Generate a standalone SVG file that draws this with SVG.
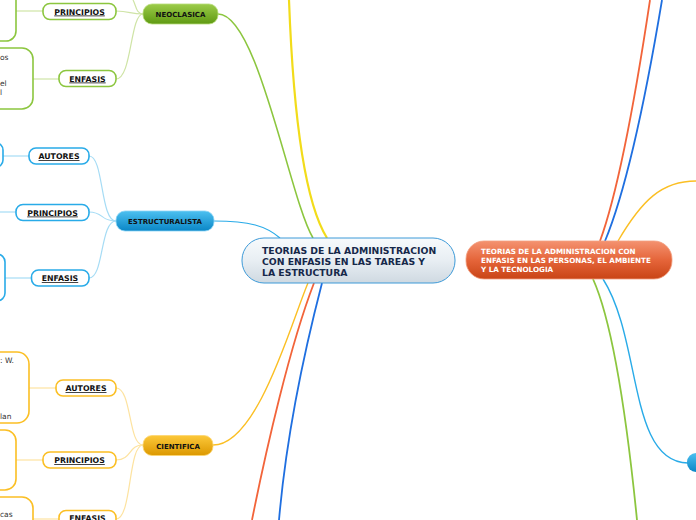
<svg xmlns="http://www.w3.org/2000/svg" width="696" height="520" viewBox="0 0 696 520">
<defs>
<linearGradient id="gCenter" x1="0" y1="0" x2="0" y2="1"><stop offset="0" stop-color="#f7fafc"/><stop offset="0.5" stop-color="#e8eef3"/><stop offset="1" stop-color="#cfd9e1"/></linearGradient>
<linearGradient id="gRight" x1="0" y1="0" x2="0" y2="1"><stop offset="0" stop-color="#f49270"/><stop offset="0.5" stop-color="#e5653a"/><stop offset="1" stop-color="#c94416"/></linearGradient>
<linearGradient id="gGreen" x1="0" y1="0" x2="0" y2="1"><stop offset="0" stop-color="#9ccc4a"/><stop offset="1" stop-color="#5f9a12"/></linearGradient>
<linearGradient id="gBlue" x1="0" y1="0" x2="0" y2="1"><stop offset="0" stop-color="#4cc0f0"/><stop offset="1" stop-color="#0a86c6"/></linearGradient>
<linearGradient id="gOrange" x1="0" y1="0" x2="0" y2="1"><stop offset="0" stop-color="#fcc83a"/><stop offset="1" stop-color="#dc9800"/></linearGradient>
</defs>
<style>
.lbl{font-family:"DejaVu Sans",Verdana,sans-serif;font-weight:bold;font-size:7.8px;fill:#111;text-anchor:middle;text-decoration:underline}
.main{font-family:"DejaVu Sans",Verdana,sans-serif;font-weight:bold;font-size:7px;fill:#111;text-anchor:middle}
.frag{font-family:"DejaVu Sans",Verdana,sans-serif;font-size:7.5px;fill:#333}
.sg{fill:#fff;stroke:#8cc63f;stroke-width:1.6}
.sb{fill:#fff;stroke:#29abe8;stroke-width:1.6}
.sy{fill:#fff;stroke:#fbbf24;stroke-width:1.6}
.cn{fill:none}
</style>

<g id="connectors">
  <path class="cn" d="M218,14 C258,14 290,200 313,238" stroke="#8cc63f" stroke-width="1.6"/>
  <path class="cn" d="M289,0 C292,80 300,195 327,238" stroke="#f2dc1a" stroke-width="2.2"/>
  <path class="cn" d="M214,221 C250,221 266,226 280,238" stroke="#29abe8" stroke-width="1.2"/>
  <path class="cn" d="M213,445 C258,445 292,320 308,283" stroke="#fbbf24" stroke-width="1.4"/>
  <path class="cn" d="M314,283 C290,345 266,450 252,520" stroke="#f2643a" stroke-width="1.8"/>
  <path class="cn" d="M322,283 C302,360 286,440 279,520" stroke="#1f6fe0" stroke-width="1.8"/>
  <path class="cn" d="M600,241 C615,200 632,120 650,0" stroke="#f2643a" stroke-width="1.8"/>
  <path class="cn" d="M605,241 C622,200 642,120 662,0" stroke="#1f6fe0" stroke-width="1.8"/>
  <path class="cn" d="M618,241 C642,200 662,181 696,181" stroke="#fbbf24" stroke-width="1.4"/>
  <path class="cn" d="M603,279 C642,340 628,462 688,463" stroke="#29abe8" stroke-width="1.4"/>
  <path class="cn" d="M593,279 C616,330 630,450 637,520" stroke="#8cc63f" stroke-width="1.8"/>
  <g stroke="#cfe4a6" stroke-width="1.2" fill="none">
    <path d="M143,14 C136,14 136,5 133,0"/>
    <path d="M143,14 C130,14 130,11 116,11"/>
    <path d="M143,14 C130,14 132,79 116,79"/>
    <path d="M43,11 L16,11"/>
    <path d="M59,79 L33,79"/>
  </g>
  <g stroke="#a6dcf5" stroke-width="1.2" fill="none">
    <path d="M116,221 C100,221 104,156 89,156"/>
    <path d="M116,221 C100,221 104,212 89,212"/>
    <path d="M116,221 C100,221 104,278 89,278"/>
    <path d="M29,156 L3,156"/>
    <path d="M16,212 L0,212"/>
    <path d="M31,278 L5,278"/>
  </g>
  <g stroke="#fde3a0" stroke-width="1.2" fill="none">
    <path d="M143,445 C128,445 132,388 116,388"/>
    <path d="M143,445 C128,445 132,460 116,460"/>
    <path d="M143,445 C128,445 132,519 116,519"/>
    <path d="M56,388 L29,388"/>
    <path d="M43,460 L16,460"/>
    <path d="M59,519 L33,519"/>
  </g>
</g>

<g id="left-boxes">
  <rect class="sg" x="-20" y="-20" width="36" height="61" rx="10"/>
  <rect class="sg" x="-20" y="48" width="53" height="61" rx="11"/>
  <text class="frag" x="0" y="60">os</text>
  <text class="frag" x="0" y="86">el</text>
  <text class="frag" x="0" y="95">l</text>
  <rect class="sb" x="-20" y="143" width="23" height="24" rx="7"/>
  <rect class="sb" x="-20" y="254" width="25" height="47" rx="8"/>
  <rect class="sy" x="-20" y="352" width="49" height="71" rx="12"/>
  <text class="frag" x="0" y="363">: W.</text>
  <text class="frag" x="0" y="419">lan</text>
  <rect class="sy" x="-20" y="430" width="36" height="60" rx="11"/>
  <rect class="sy" x="-20" y="497" width="53" height="40" rx="11"/>
  <text class="frag" x="0" y="517">cas</text>
</g>

<g id="center">
  <rect x="242" y="238" width="213" height="45" rx="22" fill="url(#gCenter)" stroke="#3d9ad8" stroke-width="1"/>
  <g font-family="DejaVu Sans,Verdana,sans-serif" font-weight="bold" font-size="9.3" fill="#16284a">
    <text x="262" y="254">TEORIAS DE LA ADMINISTRACION</text>
    <text x="262" y="265">CON ENFASIS EN LAS TAREAS Y</text>
    <text x="262" y="276">LA ESTRUCTURA</text>
  </g>
</g>

<g id="right">
  <rect x="466" y="241" width="206" height="38" rx="18" fill="url(#gRight)" stroke="#f3a080" stroke-width="0.8"/>
  <g font-family="DejaVu Sans,Verdana,sans-serif" font-weight="bold" font-size="7.2" fill="#ffffff">
    <text x="481" y="254">TEORIAS DE LA ADMINISTRACION CON</text>
    <text x="481" y="263">ENFASIS EN LAS PERSONAS, EL AMBIENTE</text>
    <text x="481" y="272">Y LA TECNOLOGIA</text>
  </g>
</g>

<g id="right-blue">
  <rect x="687" y="453" width="30" height="19" rx="9" fill="url(#gBlue)"/>
</g>

<g id="neoclasica">
  <rect x="143" y="4" width="75" height="20" rx="9" fill="url(#gGreen)" stroke="#b6dc78" stroke-width="0.8"/>
  <text class="main" x="180.5" y="17">NEOCLASICA</text>
</g>
<g id="neo-principios">
  <rect class="sg" x="43" y="3.5" width="73" height="16" rx="7"/>
  <text class="lbl" x="79.5" y="14.5">PRINCIPIOS</text>
</g>
<g id="neo-enfasis">
  <rect class="sg" x="59" y="70.5" width="57" height="16" rx="7"/>
  <text class="lbl" x="87.5" y="81.5">ENFASIS</text>
</g>

<g id="estructuralista">
  <rect x="116" y="211" width="98" height="20" rx="9" fill="url(#gBlue)" stroke="#8ad4f6" stroke-width="0.8"/>
  <text class="main" x="165" y="224">ESTRUCTURALISTA</text>
</g>
<g id="est-autores">
  <rect class="sb" x="29" y="148" width="60" height="16" rx="7"/>
  <text class="lbl" x="59" y="159">AUTORES</text>
</g>
<g id="est-principios">
  <rect class="sb" x="16" y="204.5" width="73" height="16" rx="7"/>
  <text class="lbl" x="52.5" y="215.5">PRINCIPIOS</text>
</g>
<g id="est-enfasis">
  <rect class="sb" x="31.5" y="270" width="57.5" height="16" rx="7"/>
  <text class="lbl" x="60" y="281">ENFASIS</text>
</g>

<g id="cientifica">
  <rect x="143" y="435.5" width="70" height="20" rx="9" fill="url(#gOrange)" stroke="#fcd670" stroke-width="0.8"/>
  <text class="main" x="178" y="448.5">CIENTIFICA</text>
</g>
<g id="cie-autores">
  <rect class="sy" x="56" y="380" width="60" height="16" rx="7"/>
  <text class="lbl" x="86" y="391">AUTORES</text>
</g>
<g id="cie-principios">
  <rect class="sy" x="43" y="452" width="73" height="16" rx="7"/>
  <text class="lbl" x="79.5" y="463">PRINCIPIOS</text>
</g>
<g id="cie-enfasis">
  <rect class="sy" x="59" y="510.5" width="57" height="16" rx="7"/>
  <text class="lbl" x="87.5" y="520.5">ENFASIS</text>
</g>
</svg>
